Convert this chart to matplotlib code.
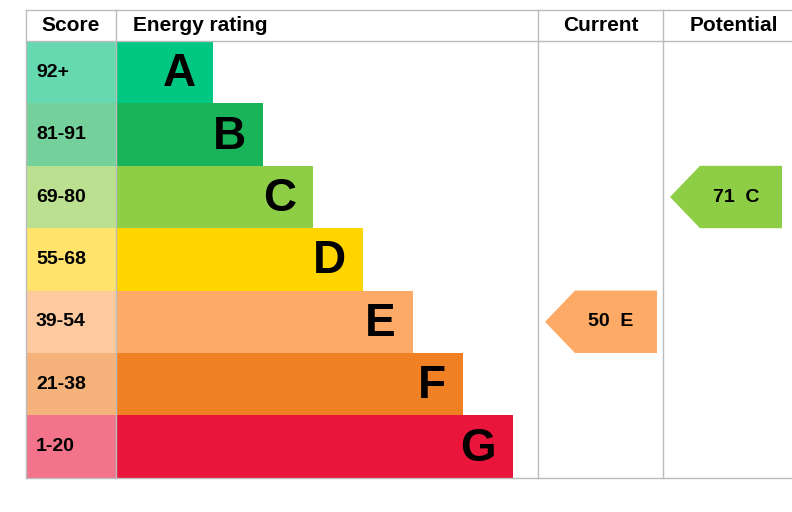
import matplotlib.pyplot as plt
from matplotlib.patches import Rectangle, Polygon

ratings = ['A', 'B', 'C', 'D', 'E', 'F', 'G']
score_ranges = ['92+', '81-91', '69-80', '55-68', '39-54', '21-38', '1-20']
bar_colors = ['#00c781', '#19b459', '#8dce46', '#ffd500', '#fcaa65', '#ef8023', '#e9153b']
score_colors = ['#66d9b0', '#75d19b', '#bbe190', '#ffe36b', '#fdcaa0', '#f5b27a', '#f2738a']
current_value, current_band = 50, 'E'
potential_value, potential_band = 71, 'C'

plt.rcParams['font.family'] = ['Liberation Sans', 'DejaVu Sans']
fig = plt.figure(figsize=(7.92, 5.12), dpi=100)
ax = fig.add_axes([0, 0, 1, 1])
ax.set_xlim(0, 792)
ax.set_ylim(512, 0)
ax.axis('off')

top, head_h, row_h = 10, 31, 62.4
left, score_w, bar_start = 26, 90, 116
cur_x0, pot_x0, right = 538, 663, 792
grey = '#bbbbbb'

# header
ax.text(71, top + head_h / 2, 'Score', ha='center', va='center', fontsize=15, weight='bold')
ax.text(133, top + head_h / 2, 'Energy rating', ha='left', va='center', fontsize=15, weight='bold')
ax.text((cur_x0 + pot_x0) / 2, top + head_h / 2, 'Current', ha='center', va='center', fontsize=15, weight='bold')
ax.text((pot_x0 + right) / 2 + 6, top + head_h / 2, 'Potential', ha='center', va='center', fontsize=15, weight='bold')

y0 = top + head_h
bottom = y0 + row_h * len(ratings)
ax.plot([left, right], [top, top], color=grey, lw=1)
ax.plot([left, right], [y0, y0], color=grey, lw=1)
ax.plot([left, right], [bottom, bottom], color=grey, lw=1)
for x in (left, bar_start, cur_x0, pot_x0):
    ax.plot([x, x], [top, bottom], color=grey, lw=1)

for i, (r, s) in enumerate(zip(ratings, score_ranges)):
    y = y0 + i * row_h
    ax.add_patch(Rectangle((left, y), score_w, row_h, color=score_colors[i], lw=0))
    ax.text(left + 10, y + row_h / 2, s, ha='left', va='center', fontsize=14, weight='bold')
    end = 213 + 50 * i
    ax.add_patch(Rectangle((bar_start, y), end - bar_start, row_h, color=bar_colors[i], lw=0))
    ax.text(end - 17, y + row_h / 2 + 2, r, ha='right', va='center', fontsize=33, weight='bold')


def arrow(x0, band, value):
    i = ratings.index(band)
    y = y0 + i * row_h
    x1 = x0 + 112
    pts = [(x0, y + row_h / 2), (x0 + 30, y), (x1, y), (x1, y + row_h), (x0 + 30, y + row_h)]
    ax.add_patch(Polygon(pts, closed=True, color=bar_colors[i], lw=0))
    ax.text(x0 + 66, y + row_h / 2, f'{value}  {band}', ha='center', va='center', fontsize=14, weight='bold')


arrow(545, current_band, current_value)
arrow(670, potential_band, potential_value)

fig.savefig('out.png', dpi=100)
